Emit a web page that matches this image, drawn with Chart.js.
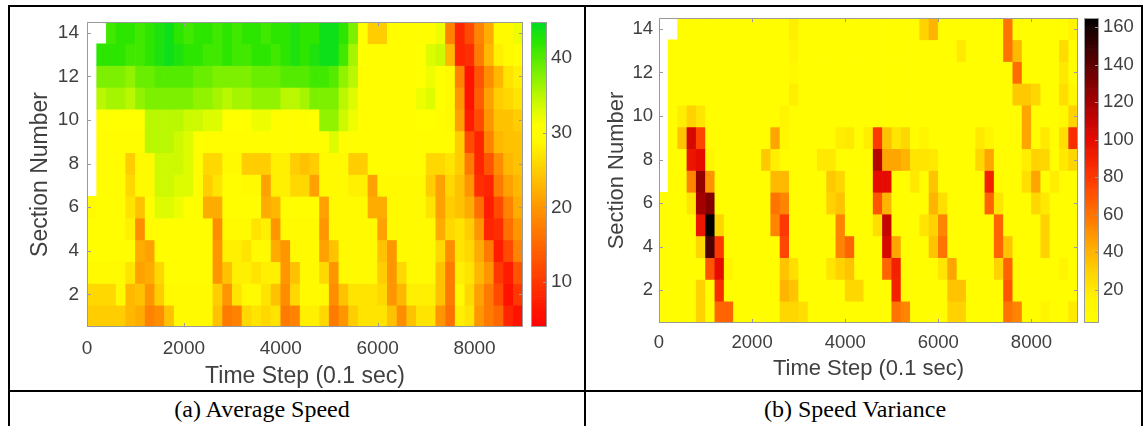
<!DOCTYPE html>
<html>
<head>
<meta charset="utf-8">
<script src="https://cdn.jsdelivr.net/npm/chart.js@4.4.1/dist/chart.umd.min.js"></script>
<style>
  body { margin: 0; background: #fff; }
  #page { position: relative; width: 1143px; height: 426px; overflow: hidden; background: #fff; }
  canvas { position: absolute; }
  .rule { position: absolute; background: #000; }
  .caption { position: absolute; top: 397px; font: 24px/24px "Liberation Serif", "Times New Roman", serif; color: #000; white-space: nowrap; transform: translateX(-50%); }
</style>
</head>
<body>
<div id="page">
  <canvas id="speedMap" width="520" height="382" style="left:10px;top:8px"></canvas>
  <canvas id="speedBar" width="70" height="382" style="left:531px;top:8px"></canvas>
  <canvas id="varMap" width="498" height="374" style="left:587px;top:8px"></canvas>
  <canvas id="varBar" width="56" height="374" style="left:1084px;top:8px"></canvas>
  <div class="rule" style="left:8px;top:5px;width:1135px;height:2px"></div>
  <div class="rule" style="left:8px;top:5px;width:2px;height:421px"></div>
  <div class="rule" style="left:584px;top:5px;width:2px;height:421px"></div>
  <div class="rule" style="left:1141px;top:5px;width:2px;height:421px"></div>
  <div class="rule" style="left:8px;top:390px;width:1135px;height:2px"></div>
  <div class="caption" style="left:262px">(a) Average Speed</div>
  <div class="caption" style="left:855px">(b) Speed Variance</div>
</div>
<script>
// centre of each 200-step time bin
const timeSteps = [100, 300, 500, 700, 900, 1100, 1300, 1500, 1700, 1900, 2100, 2300, 2500, 2700, 2900,
  3100, 3300, 3500, 3700, 3900, 4100, 4300, 4500, 4700, 4900, 5100, 5300, 5500, 5700, 5900,
  6100, 6300, 6500, 6700, 6900, 7100, 7300, 7500, 7700, 7900, 8100, 8300, 8500, 8700, 8900]
const sections = [14, 13, 12, 11, 10, 9, 8, 7, 6, 5, 4, 3, 2, 1]
const xTicks = [0, 2000, 4000, 6000, 8000]
const yTicks = [2, 4, 6, 8, 10, 12, 14]
const speedTicks = [10, 20, 30, 40]
const varTicks = [20, 40, 60, 80, 100, 120, 140, 160]
const speedRange = [4, 44.8]
const varRange = [2.4, 164.8]

// average speed, one row per section (14 at top)
const avgSpeed = [
  [null, null, 41, 42, 42, 41, 42, 43, 44, 42, 41, 42, 42, 41, 42, 41, 42, 42, 41, 42, 42, 43, 42, 42, 44, 44, 42, 38, 31, 25, 25, 30, 30, 30, 30, 30, 32, 18, 8, 12, 18, 22, 29, 29, 32],
  [null, 42, 42, 42, 41, 41, 42, 43, 44, 43, 42, 42, 41, 41, 42, 41, 41, 42, 42, 41, 42, 43, 42, 43, 44, 44, 41, 36, 31, 30, 30, 30, 30, 30, 31, 33, 34, 23, 8, 9, 17, 23, 28, 29, 30],
  [null, 38, 38, 38, 37, 39, 39, 40, 40, 40, 40, 39, 39, 38, 38, 38, 38, 39, 39, 39, 40, 40, 40, 41, 41, 40, 37, 35, 30, 30, 30, 30, 30, 30, 31, 32, 31, 29, 18, 6, 13, 19, 23, 27, 28],
  [null, 35, 36, 36, 35, 37, 38, 38, 38, 38, 38, 37, 37, 36, 35, 36, 36, 37, 37, 37, 35, 35, 36, 38, 38, 38, 35, 33, 30, 30, 30, 30, 30, 30, 32, 33, 31, 29, 20, 6, 14, 21, 25, 26, 27],
  [null, 31, 31, 31, 31, 31, 35, 35, 35, 35, 34, 34, 33, 33, 31, 31, 31, 32, 32, 30, 30, 30, 30, 31, 37, 37, 34, 32, 30, 30, 30, 30, 30, 30, 31, 31, 30, 29, 21, 7, 12, 20, 24, 24, 25],
  [null, 30, 30, 30, 30, 30, 35, 35, 35, 34, 33, 31, 30, 30, 30, 30, 30, 30, 30, 30, 30, 30, 30, 30, 30, 33, 30, 30, 30, 30, 30, 30, 30, 30, 30, 30, 30, 30, 25, 12, 8, 18, 23, 24, 24],
  [null, 30, 30, 30, 25, 29, 29, 34, 34, 34, 33, 30, 26, 26, 29, 29, 25, 25, 25, 28, 28, 25, 24, 25, 29, 29, 29, 25, 25, 30, 30, 30, 30, 30, 30, 26, 26, 27, 25, 17, 8, 13, 19, 23, 24],
  [null, 30, 30, 30, 26, 29, 29, 34, 34, 33, 33, 30, 25, 27, 30, 30, 29, 29, 21, 28, 28, 26, 26, 21, 29, 29, 29, 28, 28, 21, 29, 29, 29, 29, 29, 25, 21, 26, 24, 20, 9, 8, 17, 21, 23],
  [29, 30, 30, 30, 27, 24, 31, 33, 33, 32, 31, 30, 22, 22, 30, 30, 30, 30, 22, 23, 30, 30, 30, 30, 21, 29, 29, 29, 29, 22, 22, 29, 29, 29, 29, 27, 21, 25, 24, 22, 16, 7, 12, 18, 22],
  [30, 30, 30, 30, 28, 19, 30, 30, 30, 30, 30, 30, 30, 19, 29, 29, 29, 27, 28, 20, 29, 29, 29, 29, 20, 29, 29, 29, 29, 29, 21, 29, 29, 29, 29, 29, 22, 26, 27, 25, 20, 8, 9, 16, 20],
  [30, 30, 30, 30, 30, 22, 21, 30, 30, 30, 30, 30, 30, 20, 28, 28, 27, 29, 29, 22, 20, 29, 29, 29, 21, 24, 29, 29, 29, 29, 24, 20, 29, 29, 29, 29, 26, 19, 27, 26, 22, 17, 7, 12, 18],
  [29, 29, 29, 29, 27, 21, 22, 26, 30, 30, 30, 30, 30, 20, 24, 28, 28, 27, 28, 28, 20, 24, 29, 29, 26, 20, 29, 29, 29, 29, 25, 20, 26, 29, 29, 29, 24, 17, 28, 27, 23, 20, 10, 7, 13],
  [26, 26, 26, 29, 23, 24, 20, 25, 29, 29, 29, 29, 29, 25, 20, 27, 29, 29, 27, 24, 19, 26, 29, 29, 29, 19, 24, 27, 27, 27, 26, 20, 23, 28, 28, 28, 24, 17, 29, 26, 21, 17, 12, 6, 10],
  [25, 25, 25, 25, 23, 22, 18, 19, 24, 29, 29, 29, 29, 24, 17, 18, 26, 27, 26, 27, 17, 18, 28, 28, 26, 17, 20, 25, 27, 27, 27, 24, 19, 24, 27, 27, 20, 16, 28, 27, 20, 17, 15, 8, 6]
]

// speed variance, one row per section (14 at top)
const speedVar = [
  [null, null, 5, 5, 5, 5, 5, 5, 5, 5, 5, 5, 5, 5, 18, 5, 5, 5, 5, 5, 5, 5, 5, 5, 5, 5, 5, 5, 30, 40, 5, 5, 5, 5, 5, 5, 5, 60, 5, 5, 5, 5, 5, 5, 16],
  [null, 5, 5, 5, 5, 5, 5, 5, 5, 5, 5, 5, 5, 5, 15, 5, 5, 5, 5, 5, 5, 5, 5, 5, 5, 5, 5, 5, 5, 5, 5, 5, 20, 5, 5, 5, 5, 60, 38, 5, 5, 5, 5, 26, 5],
  [null, 5, 5, 5, 5, 5, 5, 5, 5, 5, 5, 5, 5, 5, 10, 5, 5, 5, 5, 5, 5, 5, 5, 5, 5, 5, 5, 5, 5, 5, 5, 5, 5, 5, 5, 5, 5, 5, 62, 5, 5, 5, 5, 20, 5],
  [null, 5, 5, 5, 5, 5, 5, 5, 5, 5, 5, 5, 5, 5, 18, 5, 5, 5, 5, 5, 5, 5, 5, 5, 5, 5, 5, 5, 5, 5, 5, 5, 5, 5, 5, 5, 5, 5, 33, 33, 28, 5, 5, 25, 12],
  [null, 5, 18, 30, 22, 5, 5, 5, 5, 5, 5, 5, 5, 15, 5, 5, 5, 5, 5, 5, 5, 5, 5, 5, 5, 5, 5, 5, 5, 5, 5, 5, 5, 5, 5, 5, 5, 5, 5, 45, 5, 5, 5, 10, 30],
  [null, 5, 35, 105, 75, 5, 5, 5, 5, 5, 5, 5, 45, 12, 5, 5, 5, 5, 5, 18, 20, 5, 18, 80, 35, 22, 28, 5, 15, 5, 5, 5, 5, 5, 20, 15, 5, 5, 5, 45, 5, 20, 5, 25, 85],
  [null, 5, 5, 95, 100, 12, 5, 5, 5, 5, 5, 33, 18, 5, 5, 5, 5, 20, 20, 5, 5, 5, 5, 115, 45, 45, 40, 22, 22, 20, 5, 5, 5, 5, 28, 45, 5, 5, 5, 18, 30, 28, 5, 20, 28],
  [null, 5, 5, 55, 125, 50, 5, 5, 5, 5, 5, 5, 38, 38, 5, 5, 5, 5, 33, 28, 5, 5, 5, 100, 100, 5, 5, 20, 5, 35, 5, 5, 5, 5, 5, 90, 5, 5, 5, 25, 45, 5, 18, 5, 5],
  [5, 5, 5, 22, 120, 130, 5, 5, 5, 5, 5, 5, 60, 55, 5, 5, 5, 5, 30, 35, 5, 5, 5, 70, 40, 5, 5, 5, 5, 40, 25, 5, 5, 5, 5, 65, 22, 5, 5, 5, 28, 20, 5, 5, 5],
  [5, 5, 5, 5, 95, 164, 28, 5, 5, 5, 5, 5, 55, 80, 5, 5, 5, 5, 5, 55, 5, 5, 5, 25, 110, 5, 5, 5, 22, 30, 55, 5, 5, 5, 5, 5, 65, 5, 5, 5, 5, 30, 5, 5, 5],
  [5, 5, 5, 5, 28, 145, 80, 5, 5, 5, 5, 5, 5, 75, 5, 5, 5, 5, 5, 55, 65, 5, 5, 5, 105, 45, 5, 5, 5, 35, 60, 5, 5, 5, 5, 5, 65, 35, 5, 5, 5, 30, 5, 5, 5],
  [5, 5, 5, 5, 5, 70, 100, 15, 5, 5, 5, 5, 5, 35, 25, 5, 5, 5, 22, 30, 35, 5, 5, 5, 65, 90, 5, 5, 5, 5, 22, 45, 5, 5, 5, 5, 30, 65, 5, 5, 5, 5, 5, 15, 5],
  [5, 5, 5, 5, 30, 5, 85, 5, 5, 5, 5, 5, 5, 40, 35, 5, 5, 5, 5, 5, 28, 28, 5, 5, 5, 90, 5, 5, 5, 5, 5, 35, 35, 5, 5, 5, 5, 70, 5, 5, 5, 5, 5, 5, 5],
  [5, 5, 5, 5, 30, 5, 65, 65, 5, 5, 5, 5, 5, 28, 28, 25, 5, 5, 5, 5, 5, 5, 5, 5, 5, 60, 55, 5, 5, 5, 5, 30, 30, 5, 5, 5, 5, 60, 55, 5, 5, 15, 5, 5, 20]
]

// colour stops: value, r, g, b
const speedStops = [[4, 255, 0, 0], [10, 255, 55, 0], [20, 255, 150, 0], [25, 255, 205, 0], [29, 255, 250, 0],
  [31, 255, 255, 0], [34, 205, 250, 0], [38, 125, 240, 0], [42, 45, 230, 0], [44.8, 0, 220, 35]]
const varStops = [[2.4, 255, 255, 0], [15, 255, 245, 0], [30, 255, 210, 0], [45, 255, 165, 0], [60, 255, 115, 0],
  [80, 255, 55, 0], [100, 230, 10, 0], [120, 165, 0, 0], [140, 95, 0, 0], [164.8, 0, 0, 0]]

Chart.defaults.font.family = '"Liberation Sans", Arial, sans-serif'
Chart.defaults.color = '#404040'
Chart.defaults.animation = false

function makeCmap(stops) {
  const rgb = (s) => `rgb(${Math.round(s[1])},${Math.round(s[2])},${Math.round(s[3])})`
  return (v) => {
    if (v <= stops[0][0]) return rgb(stops[0])
    for (let i = 1; i < stops.length; i++) {
      if (v <= stops[i][0]) {
        const a = stops[i - 1], b = stops[i]
        const f = (v - a[0]) / (b[0] - a[0])
        return rgb([v, a[1] + (b[1] - a[1]) * f, a[2] + (b[2] - a[2]) * f, a[3] + (b[3] - a[3]) * f])
      }
    }
    return rgb(stops[stops.length - 1])
  }
}

// matlab style box with inward ticks
const framePlugin = {
  id: 'frame',
  afterDraw(chart, args, opts) {
    const { ctx, chartArea: a, scales } = chart
    const L = 4
    ctx.save()
    ctx.strokeStyle = '#9a9a9a'
    ctx.lineWidth = 1
    ctx.strokeRect(a.left + 0.5, a.top + 0.5, a.width - 1, a.height - 1)
    ctx.beginPath()
    if (opts.xTicks) {
      scales.x.ticks.forEach((t) => {
        const px = Math.round(scales.x.getPixelForValue(t.value)) + 0.5
        ctx.moveTo(px, a.bottom); ctx.lineTo(px, a.bottom - L)
        ctx.moveTo(px, a.top); ctx.lineTo(px, a.top + L)
      })
    }
    scales.y.ticks.forEach((t) => {
      const py = Math.round(scales.y.getPixelForValue(t.value)) + 0.5
      if (opts.left) { ctx.moveTo(a.left, py); ctx.lineTo(a.left + L, py) }
      ctx.moveTo(a.right, py); ctx.lineTo(a.right - L, py)
    })
    ctx.stroke()
    ctx.restore()
  }
}

function heatmap(id, rows, cmap, lay) {
  const datasets = sections.map((sec, r) => {
    const cells = timeSteps.map((t, i) => ({ t, v: rows[r][i] })).filter((c) => c.v !== null)
    return {
      data: cells.map((c) => ({ x: c.t, y: [sec - 0.5, sec + 0.5] })),
      backgroundColor: cells.map((c) => cmap(c.v)),
      borderWidth: 0,
      grouped: false,
      barPercentage: 1,
      categoryPercentage: 1
    }
  })
  return new Chart(document.getElementById(id), {
    type: 'bar',
    data: { datasets },
    plugins: [framePlugin],
    options: {
      responsive: false,
      layout: { autoPadding: false, padding: { top: lay.top, right: lay.right, left: 0, bottom: 0 } },
      plugins: { legend: { display: false }, tooltip: { enabled: false }, frame: { xTicks: true, left: true } },
      scales: {
        x: {
          type: 'linear', min: 0, max: 9000, offset: false,
          grid: { display: false, drawTicks: false }, border: { display: false },
          afterBuildTicks: (s) => { s.ticks = xTicks.map((v) => ({ value: v })) },
          afterFit: (s) => { s.height = lay.xh; s.paddingLeft = 0; s.paddingRight = 0 },
          ticks: { padding: lay.xpad, maxRotation: 0, autoSkip: false, font: { size: lay.tick }, callback: (v) => String(v) },
          title: { display: true, text: 'Time Step (0.1 sec)', font: { size: lay.title }, padding: { top: 0, bottom: 0 } }
        },
        y: {
          type: 'linear', min: 0.5, max: 14.5,
          grid: { display: false, drawTicks: false }, border: { display: false },
          afterBuildTicks: (s) => { s.ticks = yTicks.map((v) => ({ value: v })) },
          afterFit: (s) => { s.width = lay.yw; s.paddingTop = 0; s.paddingBottom = 0 },
          ticks: { padding: lay.ypad, font: { size: lay.tick } },
          title: { display: true, text: 'Section Number', font: { size: lay.title }, padding: { top: lay.ytp, bottom: 0 } }
        }
      }
    }
  })
}

function colorBar(id, range, ticks, cmap, lay) {
  const n = 160
  const step = (range[1] - range[0]) / n
  const levels = Array.from({ length: n }, (_, i) => range[0] + i * step)
  return new Chart(document.getElementById(id), {
    type: 'bar',
    data: {
      labels: ['c'],
      datasets: [{
        data: levels.map((v) => ({ x: 'c', y: [v, v + step] })),
        backgroundColor: levels.map((v) => cmap(v + step / 2)),
        borderWidth: 0,
        grouped: false,
        barPercentage: 1,
        categoryPercentage: 1
      }]
    },
    plugins: [framePlugin],
    options: {
      responsive: false,
      layout: { autoPadding: false, padding: { top: lay.top, bottom: lay.bottom, left: 0, right: 0 } },
      plugins: { legend: { display: false }, tooltip: { enabled: false }, frame: { xTicks: false, left: false } },
      scales: {
        x: { display: false },
        y: {
          position: 'right', min: range[0], max: range[1],
          grid: { display: false, drawTicks: false }, border: { display: false },
          afterBuildTicks: (s) => { s.ticks = ticks.map((v) => ({ value: v })) },
          afterFit: (s) => { s.width = lay.yw; s.paddingTop = 0; s.paddingBottom = 0 },
          ticks: { padding: 4, font: { size: lay.tick } }
        }
      }
    }
  })
}

const speedCmap = makeCmap(speedStops)
const varCmap = makeCmap(varStops)

heatmap('speedMap', avgSpeed, speedCmap, { top: 14, right: 7, xh: 63, yw: 77, xpad: 10, ypad: 8, ytp: 17, tick: 19, title: 23 })
colorBar('speedBar', speedRange, speedTicks, speedCmap, { top: 14, bottom: 63, yw: 54, tick: 19 })
heatmap('varMap', speedVar, varCmap, { top: 10, right: 7, xh: 59, yw: 72, xpad: 9, ypad: 6, ytp: 17, tick: 18.5, title: 22 })
colorBar('varBar', varRange, varTicks, varCmap, { top: 10, bottom: 59, yw: 41, tick: 18.5 })
</script>
</body>
</html>
